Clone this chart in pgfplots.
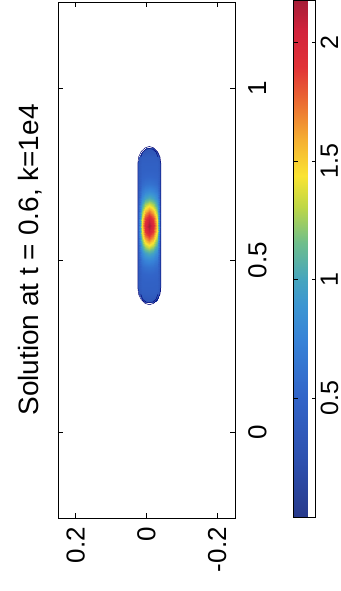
\documentclass[border=0pt]{standalone}
\usepackage{pgfplots}
\pgfplotsset{compat=1.18}
\usepackage{fontspec}
\setmainfont{Liberation Sans}
\pgfplotsset{
  colormap={scanjet}{
    rgb255(0)=(40,58,140);
    rgb255(11)=(45,80,175);
    rgb255(23)=(50,100,200);
    rgb255(34)=(55,130,215);
    rgb255(41)=(60,150,210);
    rgb255(46)=(70,165,190);
    rgb255(53)=(110,190,140);
    rgb255(60)=(190,215,70);
    rgb255(66)=(250,228,50);
    rgb255(73)=(245,175,50);
    rgb255(80)=(235,110,50);
    rgb255(87)=(225,50,55);
    rgb255(94)=(210,35,60);
    rgb255(100)=(165,30,55)
  }
}
\begin{document}
\begin{tikzpicture}
\path[use as bounding box] (-58pt,-73pt) rectangle (282pt,518pt);
\begin{axis}[
  at={(0,0)}, anchor=south west,
  scale only axis, width=177pt, height=516pt,
  xmin=-0.25, xmax=0.25, ymin=-0.25, ymax=1.25,
  x dir=reverse,
  xtick={-0.2,0,0.2}, ytick={0,0.5,1},
  tick align=inside, major tick length=5pt,
  tick style={black, line width=0.8pt},
  axis line style={line width=0.9pt},
  yticklabel pos=right,
  /pgf/number format/assume math mode=true,
  ticklabel style={font=\fontsize{26}{26}\selectfont},
  xticklabel style={rotate=90, anchor=east, inner sep=9pt},
  yticklabel style={rotate=90, anchor=north, inner sep=13pt},
  ylabel={Solution at t = 0.6, k=1e4},
  ylabel style={at={(axis description cs:-0.11,0.5)}, anchor=base, inner sep=0pt, font=\fontsize{28}{28}\selectfont},
  colormap name=scanjet,
  point meta min=0, point meta max=2.18,
  colorbar,
  colorbar style={
    at={(parent axis.south east)}, anchor=south west, xshift=50pt, yshift=1pt,
    scale only axis, width=22pt, height=517pt,
    ytick={0.5,1,1.5,2},
    yticklabel pos=right,
    ytick pos=both,
    tick align=inside, major tick length=4pt,
    tick style={black, line width=0.8pt},
    /pgf/number format/assume math mode=true,
    yticklabel style={rotate=90, anchor=north, inner sep=5pt, font=\fontsize{25}{25}\selectfont},
  },
]
\addplot[surf, shader=interp, mesh/cols=7, point meta=explicit] table[x=h, y=v, meta=z] {
h v z
-0.0186 0.375 0.25
-0.0159 0.375 0.28
-0.0119 0.375 0.30
-0.008 0.375 0.30
-0.0041 0.375 0.30
-0.0001 0.375 0.28
0.0026 0.375 0.25
-0.0297 0.385 0.28
-0.0234 0.385 0.32
-0.0157 0.385 0.34
-0.008 0.385 0.35
-0.0003 0.385 0.34
0.0074 0.385 0.32
0.0137 0.385 0.28
-0.0365 0.40 0.33
-0.0282 0.40 0.41
-0.0181 0.40 0.42
-0.008 0.40 0.42
0.0021 0.40 0.42
0.0122 0.40 0.41
0.0205 0.40 0.33
-0.039 0.42 0.35
-0.030 0.42 0.45
-0.019 0.42 0.45
-0.008 0.42 0.45
0.003 0.42 0.45
0.014 0.42 0.45
0.023 0.42 0.35
-0.039 0.44 0.35
-0.030 0.44 0.46
-0.019 0.44 0.47
-0.008 0.44 0.47
0.003 0.44 0.47
0.014 0.44 0.46
0.023 0.44 0.35
-0.039 0.46 0.35
-0.030 0.46 0.49
-0.019 0.46 0.51
-0.008 0.46 0.52
0.003 0.46 0.51
0.014 0.46 0.49
0.023 0.46 0.35
-0.039 0.48 0.35
-0.030 0.48 0.55
-0.019 0.48 0.60
-0.008 0.48 0.62
0.003 0.48 0.60
0.014 0.48 0.55
0.023 0.48 0.35
-0.039 0.50 0.36
-0.030 0.50 0.66
-0.019 0.50 0.76
-0.008 0.50 0.80
0.003 0.50 0.76
0.014 0.50 0.66
0.023 0.50 0.36
-0.039 0.52 0.38
-0.030 0.52 0.81
-0.019 0.52 0.98
-0.008 0.52 1.05
0.003 0.52 0.98
0.014 0.52 0.81
0.023 0.52 0.38
-0.039 0.54 0.40
-0.030 0.54 1.02
-0.019 0.54 1.29
-0.008 0.54 1.40
0.003 0.54 1.29
0.014 0.54 1.02
0.023 0.54 0.40
-0.039 0.56 0.42
-0.030 0.56 1.23
-0.019 0.56 1.59
-0.008 0.56 1.75
0.003 0.56 1.59
0.014 0.56 1.23
0.023 0.56 0.42
-0.039 0.58 0.44
-0.030 0.58 1.42
-0.019 0.58 1.87
-0.008 0.58 2.06
0.003 0.58 1.87
0.014 0.58 1.42
0.023 0.58 0.44
-0.039 0.60 0.45
-0.030 0.60 1.50
-0.019 0.60 1.98
-0.008 0.60 2.18
0.003 0.60 1.98
0.014 0.60 1.50
0.023 0.60 0.45
-0.039 0.62 0.44
-0.030 0.62 1.42
-0.019 0.62 1.87
-0.008 0.62 2.06
0.003 0.62 1.87
0.014 0.62 1.42
0.023 0.62 0.44
-0.039 0.64 0.42
-0.030 0.64 1.23
-0.019 0.64 1.59
-0.008 0.64 1.75
0.003 0.64 1.59
0.014 0.64 1.23
0.023 0.64 0.42
-0.039 0.66 0.40
-0.030 0.66 1.02
-0.019 0.66 1.29
-0.008 0.66 1.40
0.003 0.66 1.29
0.014 0.66 1.02
0.023 0.66 0.40
-0.039 0.68 0.38
-0.030 0.68 0.81
-0.019 0.68 0.98
-0.008 0.68 1.05
0.003 0.68 0.98
0.014 0.68 0.81
0.023 0.68 0.38
-0.039 0.70 0.36
-0.030 0.70 0.66
-0.019 0.70 0.76
-0.008 0.70 0.80
0.003 0.70 0.76
0.014 0.70 0.66
0.023 0.70 0.36
-0.039 0.72 0.35
-0.030 0.72 0.55
-0.019 0.72 0.60
-0.008 0.72 0.62
0.003 0.72 0.60
0.014 0.72 0.55
0.023 0.72 0.35
-0.039 0.74 0.35
-0.030 0.74 0.49
-0.019 0.74 0.51
-0.008 0.74 0.52
0.003 0.74 0.51
0.014 0.74 0.49
0.023 0.74 0.35
-0.039 0.76 0.35
-0.030 0.76 0.46
-0.019 0.76 0.47
-0.008 0.76 0.47
0.003 0.76 0.47
0.014 0.76 0.46
0.023 0.76 0.35
-0.039 0.78 0.35
-0.030 0.78 0.45
-0.019 0.78 0.45
-0.008 0.78 0.45
0.003 0.78 0.45
0.014 0.78 0.45
0.023 0.78 0.35
-0.0365 0.80 0.33
-0.0282 0.80 0.41
-0.0181 0.80 0.42
-0.008 0.80 0.42
0.0021 0.80 0.42
0.0122 0.80 0.41
0.0205 0.80 0.33
-0.0297 0.815 0.28
-0.0234 0.815 0.32
-0.0157 0.815 0.34
-0.008 0.815 0.35
-0.0003 0.815 0.34
0.0074 0.815 0.32
0.0137 0.815 0.28
-0.0186 0.825 0.25
-0.0159 0.825 0.28
-0.0119 0.825 0.30
-0.008 0.825 0.30
-0.0041 0.825 0.30
-0.0001 0.825 0.28
0.0026 0.825 0.25
};
\addplot[draw=blue!45!black, line width=0.5pt] coordinates {(-0.0405,0.42) (-0.0405,0.78) (-0.038,0.80) (-0.031,0.815) (-0.020,0.826) (-0.008,0.83) (0.004,0.826) (0.015,0.815) (0.022,0.80) (0.0245,0.78) (0.0245,0.42) (0.022,0.40) (0.015,0.385) (0.004,0.374) (-0.008,0.37) (-0.020,0.374) (-0.031,0.385) (-0.038,0.40) (-0.0405,0.42)};
\addplot[draw=blue!45!black, line width=0.4pt] coordinates {(-0.032,0.40) (-0.027,0.386) (-0.018,0.378) (-0.008,0.376) (0.002,0.378) (0.011,0.386) (0.016,0.40)};
\addplot[draw=blue!45!black, line width=0.4pt] coordinates {(-0.032,0.80) (-0.027,0.814) (-0.018,0.822) (-0.008,0.824) (0.002,0.822) (0.011,0.814) (0.016,0.80)};
\end{axis}
\end{tikzpicture}
\end{document}
